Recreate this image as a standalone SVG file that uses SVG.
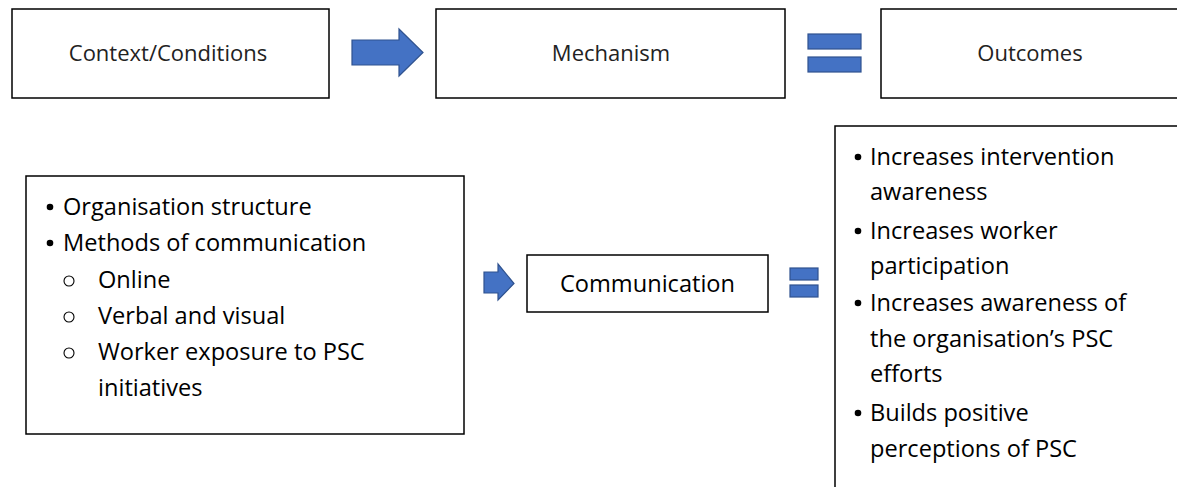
<svg xmlns="http://www.w3.org/2000/svg" width="1177" height="487" viewBox="0 0 1177 487">
  <style>
    .box { fill: #ffffff; stroke: #000000; stroke-width: 1.5; }
    .shape { fill: #4472C4; stroke: #2F528F; stroke-width: 1.2; }
    .head { font-family: "Open Sans", "Liberation Sans", sans-serif; font-size: 22px; fill: #222222; text-anchor: middle; dominant-baseline: central; }
    .body { font-family: "Open Sans", "Liberation Sans", sans-serif; font-size: 23.6px; fill: #000000; dominant-baseline: central; }
    .mid { text-anchor: middle; }
  </style>
  <rect width="1177" height="487" fill="#ffffff"/>

  <!-- header row -->
  <g id="context-header">
    <rect class="box" x="12" y="9" width="317" height="89"/>
    <text class="head" x="168" y="52">Context/Conditions</text>
  </g>
  <g id="mechanism-header">
    <rect class="box" x="436" y="9" width="349" height="89"/>
    <text class="head" x="611" y="52">Mechanism</text>
  </g>
  <g id="outcomes-header">
    <rect class="box" x="881" y="9" width="305" height="89"/>
    <text class="head" x="1030" y="52">Outcomes</text>
  </g>

  <!-- contexts -->
  <g id="context-list">
    <rect class="box" x="26" y="176" width="438" height="258"/>
    <circle cx="50" cy="207" r="3.3" fill="#000"/>
    <text class="body" x="63" y="206">Organisation structure</text>
    <circle cx="50" cy="243" r="3.3" fill="#000"/>
    <text class="body" x="63" y="242">Methods of communication</text>
    <circle cx="69" cy="281" r="5" fill="none" stroke="#000" stroke-width="1.1"/>
    <text class="body" x="98" y="279">Online</text>
    <circle cx="69" cy="317" r="5" fill="none" stroke="#000" stroke-width="1.1"/>
    <text class="body" x="98" y="315">Verbal and visual</text>
    <circle cx="69" cy="353" r="5" fill="none" stroke="#000" stroke-width="1.1"/>
    <text class="body" x="98" y="351">Worker exposure to PSC</text>
    <text class="body" x="98" y="387">initiatives</text>
  </g>

  <!-- mechanism -->
  <g id="communication">
    <rect class="box" x="527" y="255" width="241" height="57"/>
    <text class="body mid" x="647.5" y="283">Communication</text>
  </g>

  <!-- outcomes -->
  <g id="outcome-list">
    <rect class="box" x="835" y="126" width="350" height="370"/>
    <circle cx="858" cy="157" r="3.3" fill="#000"/>
    <text class="body" x="870" y="156">Increases intervention</text>
    <text class="body" x="870" y="191">awareness</text>
    <circle cx="858" cy="231" r="3.3" fill="#000"/>
    <text class="body" x="870" y="230">Increases worker</text>
    <text class="body" x="870" y="265">participation</text>
    <circle cx="858" cy="303" r="3.3" fill="#000"/>
    <text class="body" x="870" y="302">Increases awareness of</text>
    <text class="body" x="870" y="338">the organisation’s PSC</text>
    <text class="body" x="870" y="373">efforts</text>
    <circle cx="858" cy="413" r="3.3" fill="#000"/>
    <text class="body" x="870" y="412">Builds positive</text>
    <text class="body" x="870" y="448">perceptions of PSC</text>
  </g>

  <!-- connectors: block arrows and equals signs -->
  <g id="connectors">
    <path class="shape" d="M352,40 H399 V29 L423,52.5 L399,76 V65 H352 Z"/>
    <rect class="shape" x="808" y="34" width="53" height="15"/>
    <rect class="shape" x="808" y="57" width="53" height="15"/>
    <path class="shape" d="M484,272 H498 V264 L514,283.5 L498,300 V293 H484 Z"/>
    <rect class="shape" x="790" y="268" width="28" height="12"/>
    <rect class="shape" x="790" y="285" width="28" height="12"/>
  </g>
</svg>
